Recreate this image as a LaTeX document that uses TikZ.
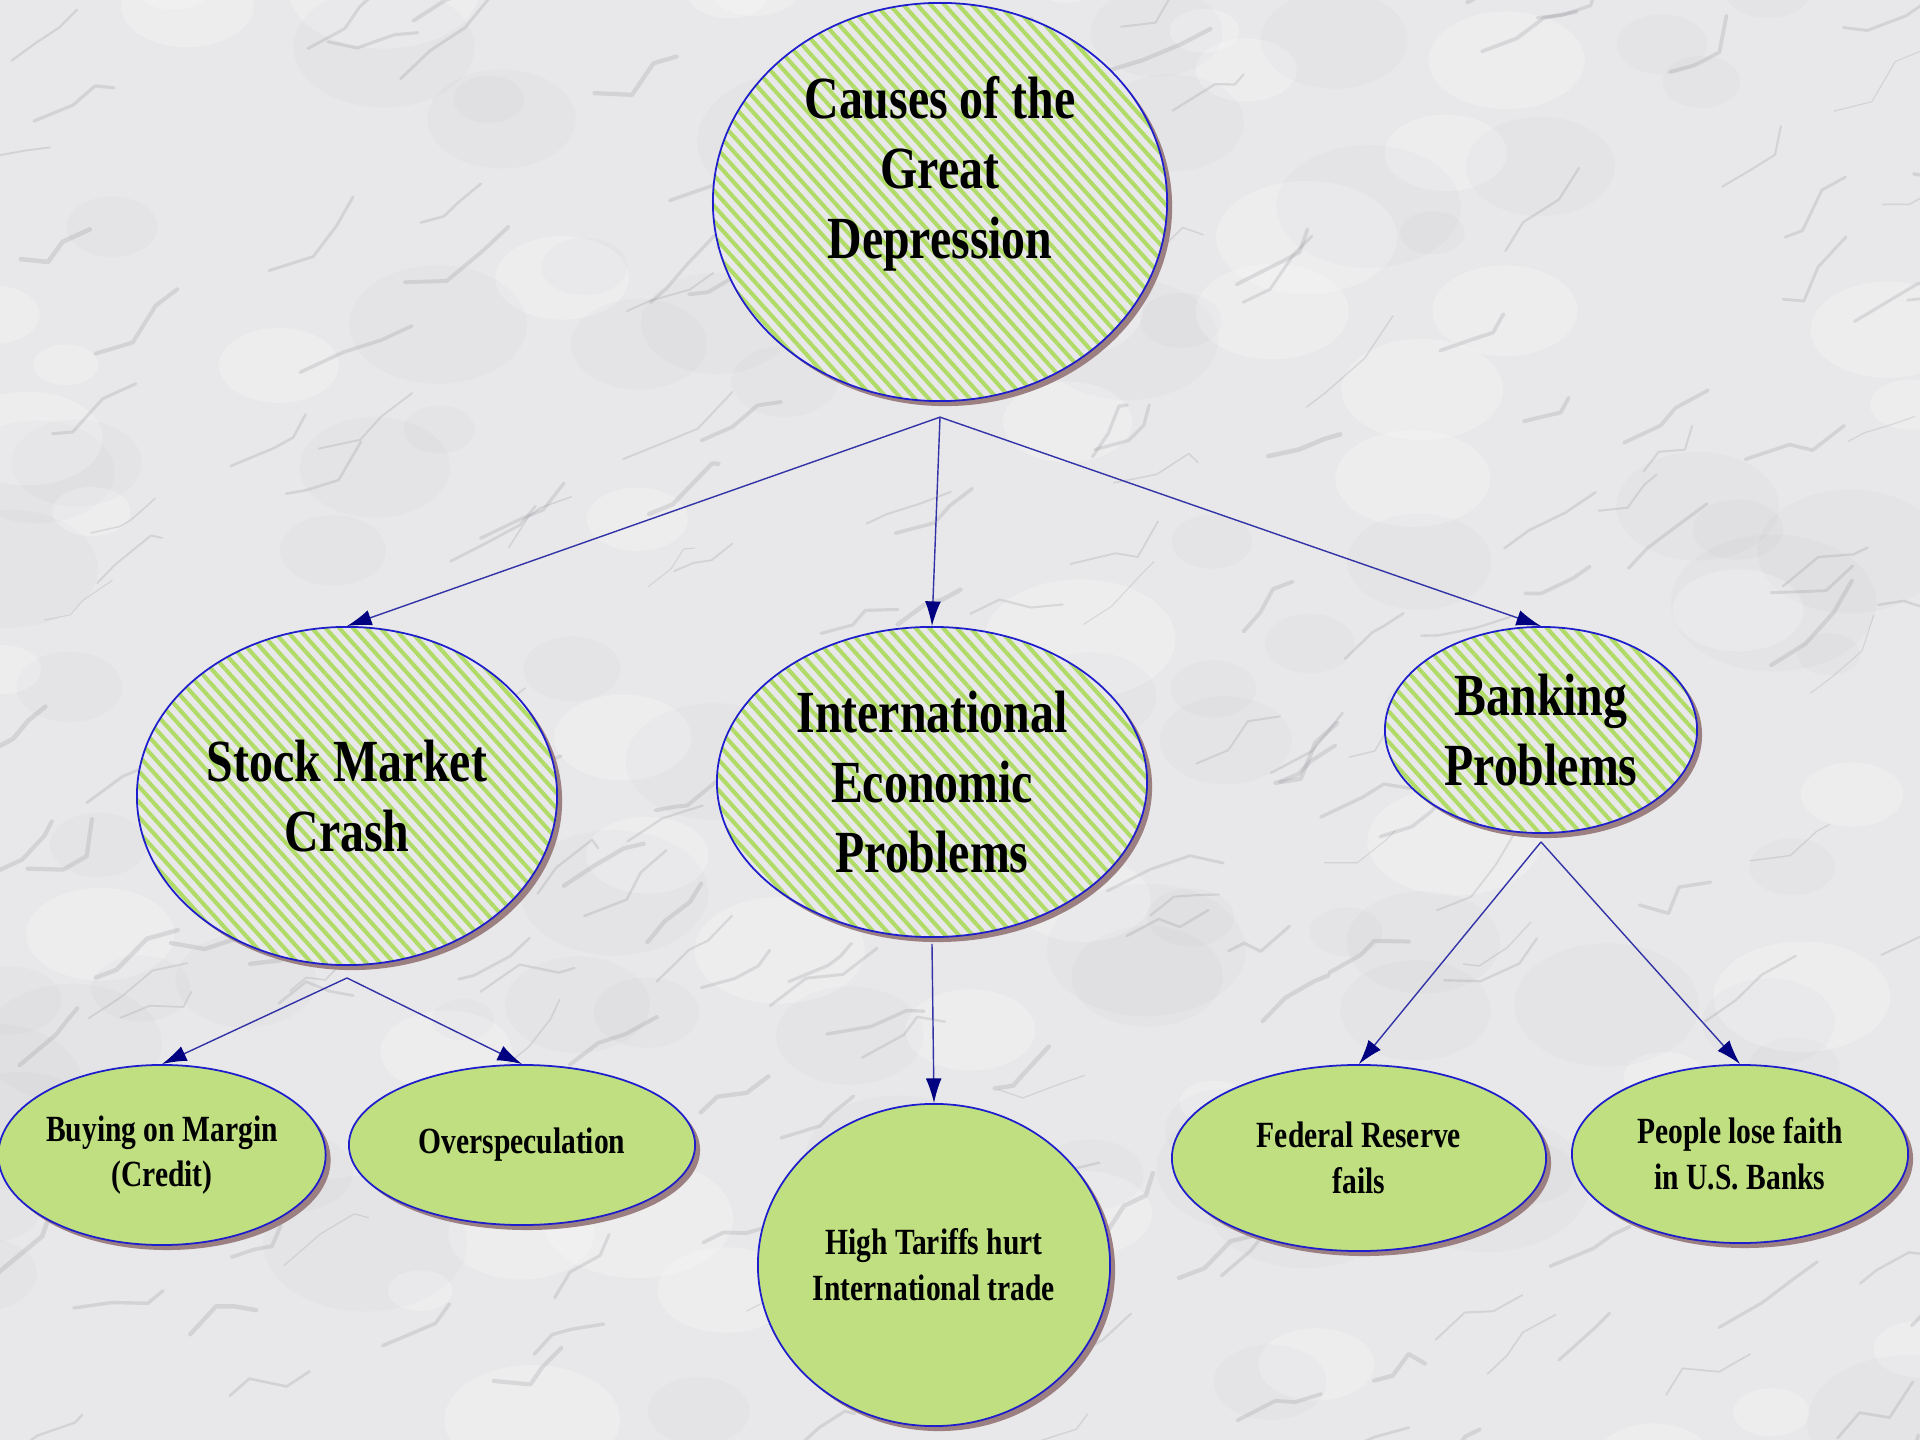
\documentclass[tikz,border=0pt]{standalone}
\usepackage{fontspec}
\setmainfont{Liberation Serif}[FakeStretch=0.8]
\usetikzlibrary{shapes.geometric,shadows,patterns.meta,arrows.meta}

\definecolor{marble}{HTML}{E8E8EA}
\definecolor{veingray}{HTML}{8A8A92}
\definecolor{leaf}{HTML}{C0DF80}
\definecolor{stripe}{HTML}{B0DB66}
\definecolor{rim}{HTML}{1E1ECC}
\definecolor{linkblue}{HTML}{3333A8}
\definecolor{tipnavy}{HTML}{000080}
\definecolor{shade}{HTML}{9C7F80}

\tikzset{
  bubble/.style={ellipse, draw=rim, line width=0.5pt, inner sep=0pt, align=center,
    drop shadow={shadow xshift=0.05cm, shadow yshift=-0.05cm, fill=shade, opacity=1}},
  hatched/.style={bubble, preaction={fill=marble},
    pattern={Lines[angle=-48,distance=2.9pt,line width=1.15pt]}, pattern color=stripe,
    font=\fontsize{17}{20}\selectfont\bfseries},
  plain/.style={bubble, fill=leaf, font=\fontsize{10.5}{13}\selectfont\bfseries},
  link/.style={draw=linkblue, line width=0.4pt, -{Latex[length=7pt,width=4.5pt,color=tipnavy]}},
  vein/.style={draw=veingray, opacity=0.22, line cap=round, line join=round},
}

\begin{document}
\begin{tikzpicture}[x=0.01cm, y=-0.01cm]
    % 背景 (大理石)
    \fill[marble] (0,0) rectangle (1920,1440);
    \useasboundingbox (0,0) rectangle (1920,1440);
    \pgfmathsetseed{11}
    \foreach \k in {1,...,90} {
        \pgfmathsetmacro{\xa}{rnd*1960-20}
        \pgfmathsetmacro{\ya}{rnd*1480-20}
        \pgfmathsetmacro{\ra}{20+rnd*50}
        \fill[veingray, opacity=0.04] (\xa,\ya) ellipse ({\ra*1.5} and \ra);
    }
    \foreach \k in {1,...,60} {
        \pgfmathsetmacro{\xa}{rnd*1960-20}
        \pgfmathsetmacro{\ya}{rnd*1480-20}
        \pgfmathsetmacro{\ra}{20+rnd*40}
        \fill[white, opacity=0.22] (\xa,\ya) ellipse ({\ra*1.6} and \ra);
    }
    \foreach \k in {1,...,220} {
        \pgfmathsetmacro{\xa}{rnd*1980-30}
        \pgfmathsetmacro{\ya}{rnd*1500-30}
        \pgfmathsetmacro{\xb}{\xa+15+rnd*30}
        \pgfmathsetmacro{\yb}{\ya-25*rnd+10*rand}
        \pgfmathsetmacro{\xc}{\xb+10+rnd*30}
        \pgfmathsetmacro{\yc}{\yb-30*rnd+12*rand}
        \pgfmathsetmacro{\xd}{\xc+5+rnd*30}
        \pgfmathsetmacro{\yd}{\yc-30*rnd+15*rand}
        \pgfmathsetmacro{\lw}{0.3+rnd*1.0}
        \draw[vein, line width=\lw pt] (\xa,\ya) -- (\xb,\yb) -- (\xc,\yc) -- (\xd,\yd);
    }

    % 第一层
    \node[hatched, minimum width=4.54cm, minimum height=3.98cm,
        label={[font=\fontsize{17}{20}\selectfont\bfseries, align=center, yshift=0.28cm]center:Causes of the\\Great\\Depression}]
        (top) at (940,202) {};

    % 第二层
    \node[hatched, minimum width=4.20cm, minimum height=3.38cm] (smc) at (347,796) {Stock Market\\Crash};
    \node[hatched, minimum width=4.30cm, minimum height=3.10cm] (iep) at (932,782) {International\\Economic\\Problems};
    \node[hatched, minimum width=3.12cm, minimum height=2.06cm] (bank) at (1541,730) {Banking\\Problems};

    % 第三层
    \node[plain, minimum width=3.20cm, minimum height=1.80cm] (margin) at (162,1155) {Buying on Margin\\(Credit)};
    \node[plain, minimum width=3.46cm, minimum height=1.60cm] (overspec) at (522,1145) {Overspeculation};
    \node[plain, minimum width=3.52cm, minimum height=3.22cm] (tariffs) at (934,1265) {High Tariffs hurt\\International trade};
    \node[plain, minimum width=3.74cm, minimum height=1.86cm] (fed) at (1359,1158) {Federal Reserve\\fails};
    \node[plain, minimum width=3.36cm, minimum height=1.78cm] (faith) at (1740,1154) {People lose faith\\in U.S. Banks};

    % 箭头的起点
    \coordinate (topfoot) at ([yshift=-0.14cm]top.south);
    \coordinate (smcfoot) at ([yshift=-0.12cm]smc.south);
    \coordinate (iepfoot) at ([yshift=-0.06cm]iep.south);
    \coordinate (bankfoot) at ([yshift=-0.08cm]bank.south);

    % 箭头
    \draw[link] (topfoot) -- (smc.north);
    \draw[link] (topfoot) -- (iep.north);
    \draw[link] (topfoot) -- (bank.north);
    \draw[link] (smcfoot) -- (margin.north);
    \draw[link] (smcfoot) -- (overspec.north);
    \draw[link] (iepfoot) -- (tariffs.north);
    \draw[link] (bankfoot) -- (fed.north);
    \draw[link] (bankfoot) -- (faith.north);
\end{tikzpicture}
\end{document}
